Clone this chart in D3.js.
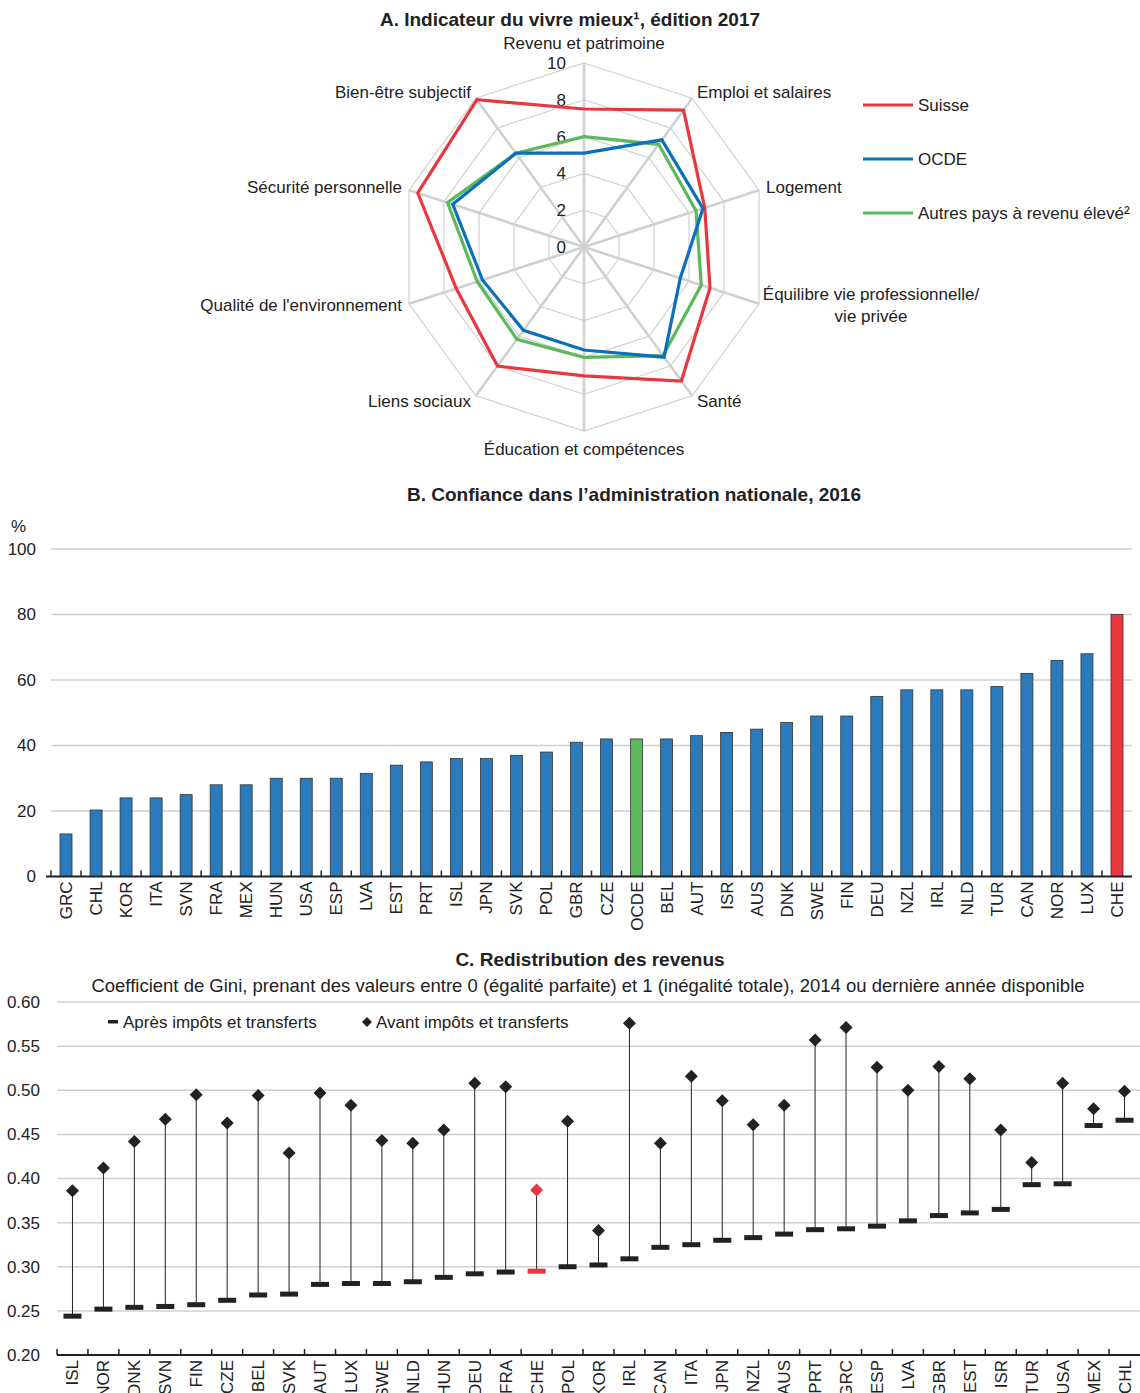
<!DOCTYPE html>
<html>
<head>
<meta charset="utf-8">
<script src="https://cdn.jsdelivr.net/npm/d3@7"></script>
<style>
  body { margin: 0; background: #fff; }
  svg text { font-family: "Liberation Sans Narrow", "Arial Narrow", "Liberation Sans", sans-serif; fill: #222; }
</style>
</head>
<body>
<div id="chart"></div>
<script>
// ---- Panel A : radar ----
const radarAxes = ["Revenu et patrimoine", "Emploi et salaires", "Logement",
  "Équilibre vie professionnelle/\nvie privée", "Santé", "Éducation et compétences",
  "Liens sociaux", "Qualité de l'environnement", "Sécurité personnelle", "Bien-être subjectif"];
const suisse = [7.5, 9.2, 6.9, 7.2, 9.0, 7.0, 8.0, 7.3, 9.5, 9.9];
const ocde   = [5.1, 7.2, 6.8, 5.5, 7.4, 5.6, 5.6, 5.8, 7.5, 6.3];
const autres = [6.0, 6.9, 6.4, 6.7, 7.3, 6.0, 6.2, 6.1, 7.8, 6.3];
const radarTicks = [0, 2, 4, 6, 8, 10];

// ---- Panel B : confiance ----
const trustCountries = ["GRC","CHL","KOR","ITA","SVN","FRA","MEX","HUN","USA","ESP","LVA","EST","PRT","ISL","JPN","SVK","POL","GBR","CZE","OCDE","BEL","AUT","ISR","AUS","DNK","SWE","FIN","DEU","NZL","IRL","NLD","TUR","CAN","NOR","LUX","CHE"];
const trustValues = [13, 20.3, 24, 24, 25, 28, 28, 30, 30, 30, 31.5, 34, 35, 36, 36, 37, 38, 41, 42, 42, 42, 43, 44, 45, 47, 49, 49, 55, 57, 57, 57, 58, 62, 66, 68, 80];
const trustTicks = [0, 20, 40, 60, 80, 100];

// ---- Panel C : Gini ----
const giniCountries = ["ISL","NOR","DNK","SVN","FIN","CZE","BEL","SVK","AUT","LUX","SWE","NLD","HUN","DEU","FRA","CHE","POL","KOR","IRL","CAN","ITA","JPN","NZL","AUS","PRT","GRC","ESP","LVA","GBR","EST","ISR","TUR","USA","MEX","CHL"];
const giniAfter  = [0.244,0.252,0.254,0.255,0.257,0.262,0.268,0.269,0.280,0.281,0.281,0.283,0.288,0.292,0.294,0.295,0.300,0.302,0.309,0.322,0.325,0.330,0.333,0.337,0.342,0.343,0.346,0.352,0.358,0.361,0.365,0.393,0.394,0.460,0.466];
const giniBefore = [0.386,0.412,0.442,0.467,0.495,0.463,0.494,0.429,0.497,0.483,0.443,0.440,0.455,0.508,0.504,0.387,0.465,0.341,0.576,0.440,0.516,0.488,0.461,0.483,0.557,0.571,0.526,0.500,0.527,0.513,0.455,0.418,0.508,0.479,0.499];
const giniTicks = [0.20, 0.25, 0.30, 0.35, 0.40, 0.45, 0.50, 0.55, 0.60];

const RED = "#e8373f", BLUE = "#0a70b9", GREEN = "#5cb85a", BARBLUE = "#2a7bbd", GRID = "#d0d0d0", INK = "#222";

const width = 1140, height = 1393;
const svg = d3.select("#chart").append("svg")
  .attr("width", width).attr("height", height)
  .attr("viewBox", [0, 0, width, height]);

// ================= A. radar =================
const cx = 584, cy = 247, R = 184;
const r = d3.scaleLinear().domain([0, 10]).range([0, R]);
const ang = i => i * 2 * Math.PI / radarAxes.length;
const pt = (i, v) => [cx + r(v) * Math.sin(ang(i)), cy - r(v) * Math.cos(ang(i))];

svg.append("text").attr("x", 570).attr("y", 26).attr("text-anchor", "middle")
  .attr("font-size", 19).attr("font-weight", "bold")
  .text("A. Indicateur du vivre mieux¹, édition 2017");

const radar = svg.append("g");
// rings
radar.selectAll("polygon.ring")
  .data(radarTicks.filter(d => d > 0))
  .join("polygon")
  .attr("points", d => radarAxes.map((_, i) => pt(i, d).join(",")).join(" "))
  .attr("fill", "none").attr("stroke", GRID).attr("stroke-width", 1.2);
// spokes
radar.selectAll("line.spoke")
  .data(radarAxes)
  .join("line")
  .attr("x1", cx).attr("y1", cy)
  .attr("x2", (d, i) => pt(i, 10)[0]).attr("y2", (d, i) => pt(i, 10)[1])
  .attr("stroke", GRID).attr("stroke-width", 2.6);
// tick labels
radar.selectAll("text.tick")
  .data(radarTicks)
  .join("text")
  .attr("x", cx - 18).attr("y", d => cy - r(d) + 6)
  .attr("text-anchor", "end").attr("font-size", 17)
  .text(d => d);

// axis labels
const labelPos = [
  { x: cx, y: 49, anchor: "middle" },
  { x: 697, y: 98, anchor: "start" },
  { x: 766, y: 193, anchor: "start" },
  { x: 871, y: 300, anchor: "middle" },
  { x: 697, y: 407, anchor: "start" },
  { x: cx, y: 455, anchor: "middle" },
  { x: 471, y: 407, anchor: "end" },
  { x: 402, y: 311, anchor: "end" },
  { x: 402, y: 193, anchor: "end" },
  { x: 471, y: 98, anchor: "end" }
];
radarAxes.forEach((name, i) => {
  const p = labelPos[i];
  const t = radar.append("text").attr("x", p.x).attr("y", p.y)
    .attr("text-anchor", p.anchor).attr("font-size", 17);
  name.split("\n").forEach((line, k) => {
    t.append("tspan").attr("x", p.x).attr("dy", k ? 22 : 0).text(line);
  });
});

const series = [
  { name: "Suisse", values: suisse, color: RED },
  { name: "OCDE", values: ocde, color: BLUE },
  { name: "Autres pays à revenu élevé²", values: autres, color: GREEN }
];
const lineGen = d3.lineRadial().angle((d, i) => ang(i)).radius(d => r(d)).curve(d3.curveLinearClosed);
radar.selectAll("path.serie")
  .data([series[0], series[2], series[1]])
  .join("path")
  .attr("transform", `translate(${cx},${cy})`)
  .attr("d", d => lineGen(d.values))
  .attr("fill", "none").attr("stroke", d => d.color).attr("stroke-width", 3.2)
  .attr("stroke-linejoin", "miter");

// legend
const leg = svg.append("g").selectAll("g").data(series).join("g")
  .attr("transform", (d, i) => `translate(863,${105 + i * 54})`);
leg.append("line").attr("x1", 0).attr("x2", 50)
  .attr("stroke", d => d.color).attr("stroke-width", 3.2);
leg.append("text").attr("x", 55).attr("y", 6).attr("font-size", 17).text(d => d.name);

// ================= B. bars =================
svg.append("text").attr("x", 634).attr("y", 501).attr("text-anchor", "middle")
  .attr("font-size", 19).attr("font-weight", "bold")
  .text("B. Confiance dans l’administration nationale, 2016");

const xB = d3.scaleBand().domain(trustCountries).range([51, 1132]);
const yB = d3.scaleLinear().domain([0, 100]).range([876.5, 549]);

svg.append("g").selectAll("line").data(trustTicks.filter(d => d > 0)).join("line")
  .attr("x1", 51).attr("x2", 1132).attr("y1", d => yB(d)).attr("y2", d => yB(d))
  .attr("stroke", GRID).attr("stroke-width", 1.5);

svg.append("g")
  .attr("transform", "translate(40,0)")
  .call(d3.axisLeft(yB).tickValues(trustTicks).tickSize(0).tickPadding(4))
  .call(g => g.select(".domain").remove())
  .call(g => g.selectAll("text").attr("font-size", 17).attr("fill", INK)
    .style("font-family", "'Liberation Sans Narrow', 'Arial Narrow', sans-serif"));
svg.append("text").attr("x", 11).attr("y", 532).attr("font-size", 17).text("%");

const bw = 12;
svg.append("g").selectAll("rect").data(trustCountries).join("rect")
  .attr("x", d => xB(d) + xB.bandwidth() / 2 - bw / 2)
  .attr("y", (d, i) => yB(trustValues[i]))
  .attr("width", bw)
  .attr("height", (d, i) => yB(0) - yB(trustValues[i]))
  .attr("fill", d => d === "CHE" ? RED : d === "OCDE" ? GREEN : BARBLUE)
  .attr("stroke", "#333").attr("stroke-width", 0.8);

// x axis
const axB = svg.append("g").attr("transform", `translate(0,${yB(0)})`);
axB.append("line").attr("x1", 46).attr("x2", 1132).attr("stroke", INK).attr("stroke-width", 2);
axB.selectAll("line.tk").data(trustCountries).join("line")
  .attr("x1", d => xB(d)).attr("x2", d => xB(d)).attr("y1", 0).attr("y2", -6)
  .attr("stroke", INK).attr("stroke-width", 1.5);
axB.selectAll("text").data(trustCountries).join("text")
  .attr("transform", d => `translate(${xB(d) + xB.bandwidth() / 2 + 6},5) rotate(-90)`)
  .attr("text-anchor", "end").attr("font-size", 17).text(d => d);

// ================= C. Gini =================
svg.append("text").attr("x", 590).attr("y", 966).attr("text-anchor", "middle")
  .attr("font-size", 19).attr("font-weight", "bold")
  .text("C. Redistribution des revenus");
svg.append("text").attr("x", 588).attr("y", 992).attr("text-anchor", "middle")
  .attr("font-size", 18.5)
  .text("Coefficient de Gini, prenant des valeurs entre 0 (égalité parfaite) et 1 (inégalité totale), 2014 ou dernière année disponible");

const xC = d3.scaleBand().domain(giniCountries).range([57, 1140]);
const yC = d3.scaleLinear().domain([0.2, 0.6]).range([1355, 1002]);

svg.append("g").selectAll("line").data(giniTicks.filter(d => d > 0.2)).join("line")
  .attr("x1", 57).attr("x2", 1140).attr("y1", d => yC(d)).attr("y2", d => yC(d))
  .attr("stroke", GRID).attr("stroke-width", 1.5);

svg.append("g")
  .attr("transform", "translate(44,0)")
  .call(d3.axisLeft(yC).tickValues(giniTicks).tickFormat(d3.format(".2f")).tickSize(0).tickPadding(4))
  .call(g => g.select(".domain").remove())
  .call(g => g.selectAll("text").attr("font-size", 17).attr("fill", INK)
    .style("font-family", "'Liberation Sans Narrow', 'Arial Narrow', sans-serif"));

const diamond = s => `M0,${-s}L${s},0L0,${s}L${-s},0Z`;
const gC = svg.append("g");
const cxC = d => xC(d) + xC.bandwidth() / 2;
gC.selectAll("line.stem").data(giniCountries).join("line")
  .attr("x1", cxC).attr("x2", cxC)
  .attr("y1", (d, i) => yC(giniAfter[i])).attr("y2", (d, i) => yC(giniBefore[i]))
  .attr("stroke", INK).attr("stroke-width", 1);
gC.selectAll("rect").data(giniCountries).join("rect")
  .attr("x", d => cxC(d) - 9).attr("y", (d, i) => yC(giniAfter[i]) - 2.5)
  .attr("width", 18).attr("height", 5)
  .attr("fill", d => d === "CHE" ? RED : INK);
gC.selectAll("path").data(giniCountries).join("path")
  .attr("transform", (d, i) => `translate(${cxC(d)},${yC(giniBefore[i])})`)
  .attr("d", diamond(6.5))
  .attr("fill", d => d === "CHE" ? RED : INK);

// legend C
svg.append("rect").attr("x", 108).attr("y", 1020).attr("width", 10).attr("height", 3.5).attr("fill", INK);
svg.append("text").attr("x", 123).attr("y", 1028).attr("font-size", 17).text("Après impôts et transferts");
svg.append("path").attr("transform", "translate(367,1022)").attr("d", diamond(5)).attr("fill", INK);
svg.append("text").attr("x", 376).attr("y", 1028).attr("font-size", 17).text("Avant impôts et transferts");

// x axis C
const axC = svg.append("g").attr("transform", `translate(0,${yC(0.2)})`);
axC.append("line").attr("x1", 57).attr("x2", 1140).attr("stroke", INK).attr("stroke-width", 2);
axC.selectAll("line.tk").data(giniCountries).join("line")
  .attr("x1", d => xC(d)).attr("x2", d => xC(d)).attr("y1", 0).attr("y2", -6)
  .attr("stroke", INK).attr("stroke-width", 1.5);
axC.selectAll("text").data(giniCountries).join("text")
  .attr("transform", d => `translate(${cxC(d) + 6},5) rotate(-90)`)
  .attr("text-anchor", "end").attr("font-size", 17).text(d => d);
</script>
</body>
</html>
